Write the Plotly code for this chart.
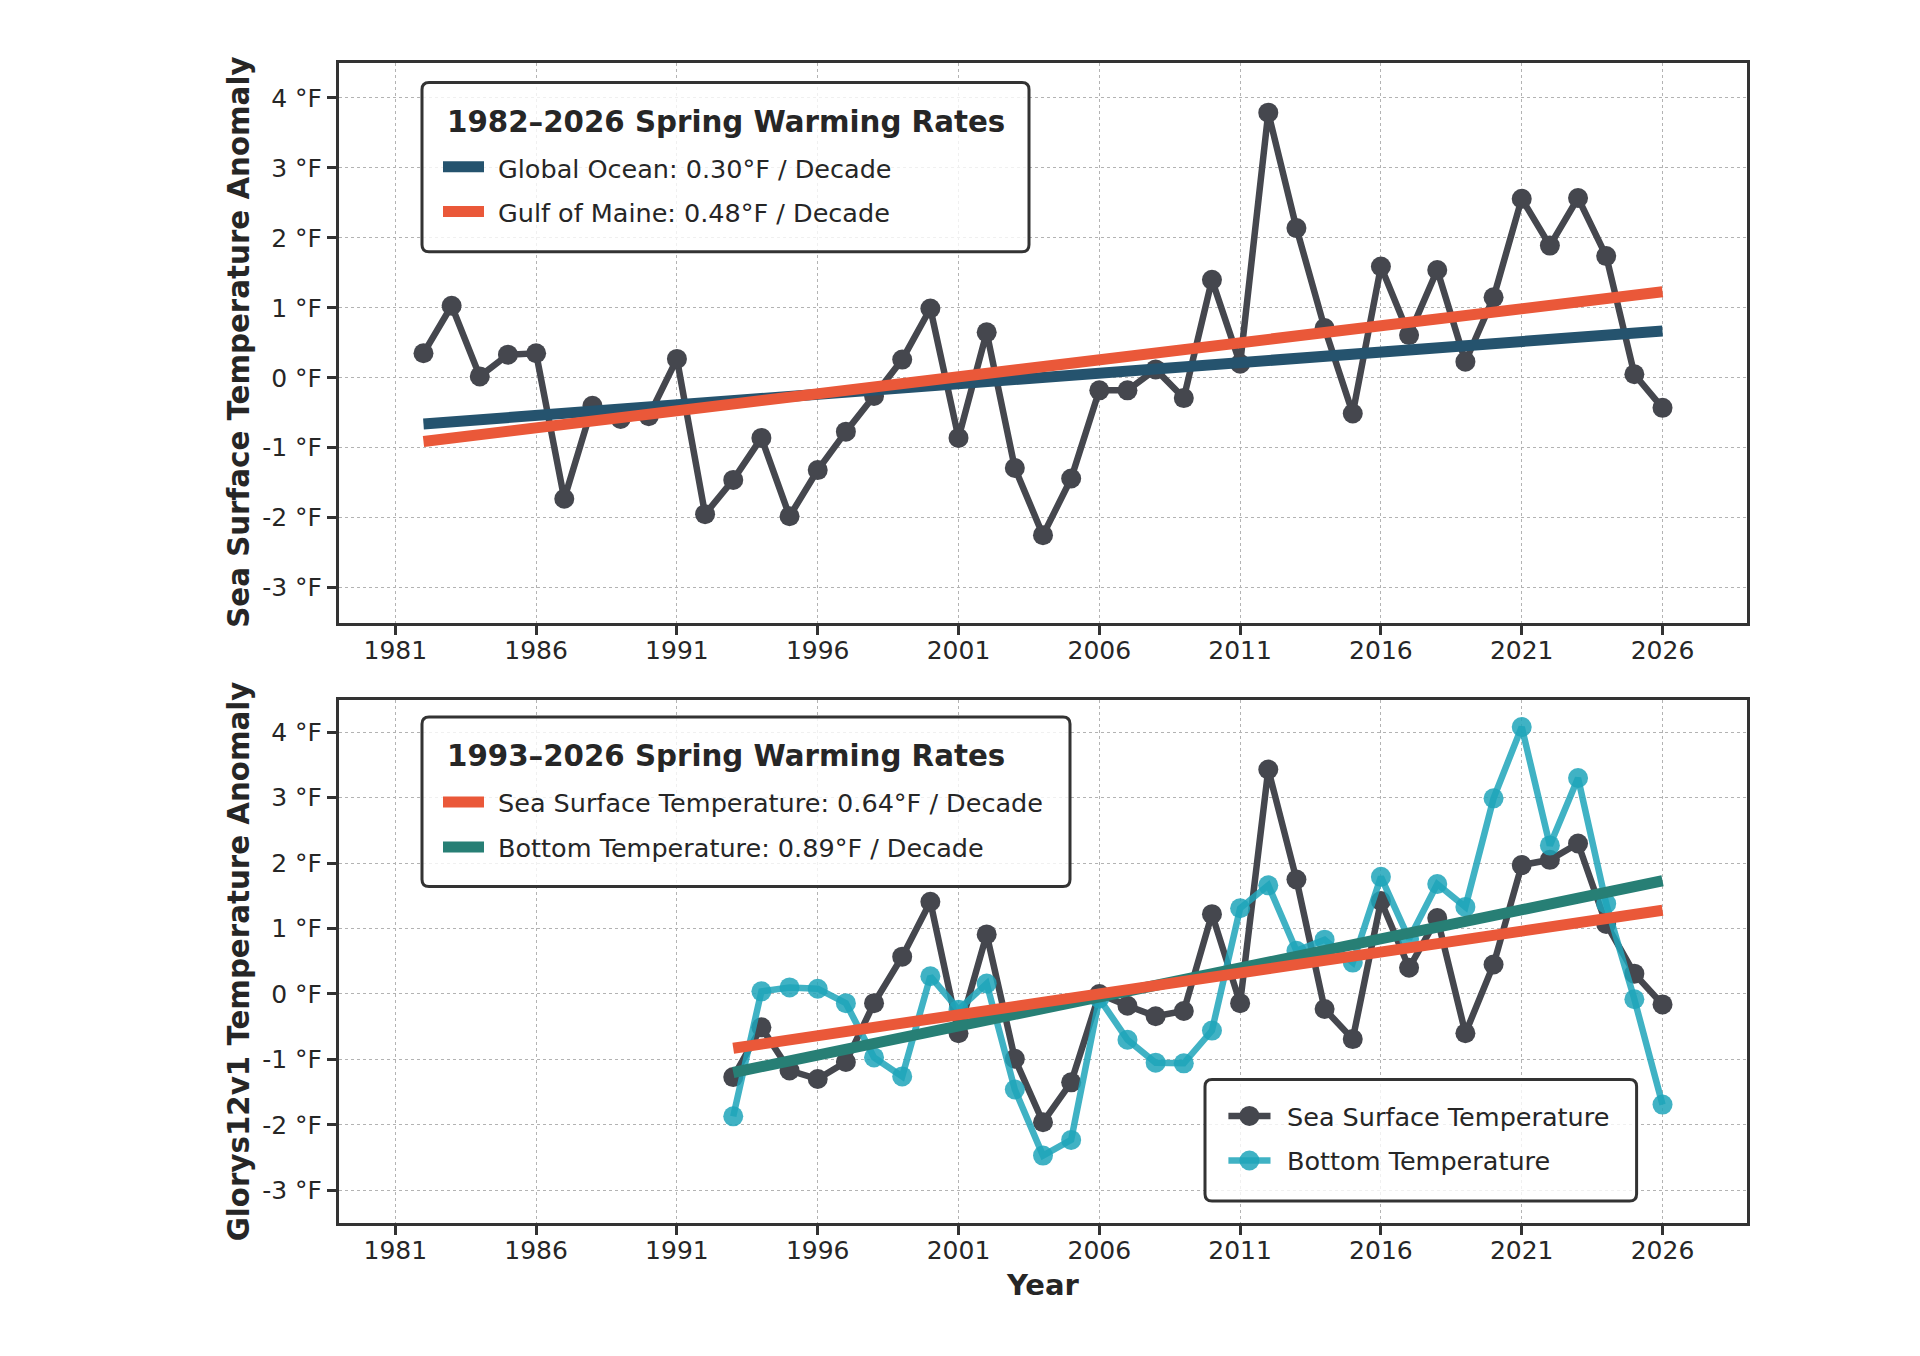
import plotly.graph_objects as go

# ---------------- data ----------------
years_top = list(range(1982, 2027))
gom_sst = [0.35, 1.03, 0.02, 0.33, 0.35, -1.73, -0.40, -0.59, -0.55, 0.27,
           -1.95, -1.46, -0.86, -1.98, -1.32, -0.77, -0.26, 0.26, 0.99, -0.86,
           0.65, -1.29, -2.25, -1.44, -0.18, -0.18, 0.12, -0.29, 1.40, 0.20,
           3.79, 2.14, 0.71, -0.51, 1.59, 0.61, 1.54, 0.23, 1.15, 2.56,
           1.89, 2.57, 1.74, 0.05, -0.43]
trend_years_top = [1982, 2026]
global_trend = [-0.66, 0.67]
gom_trend = [-0.91, 1.23]

years_bot = list(range(1993, 2027))
glorys_sst = [-1.27, -0.51, -1.17, -1.30, -1.04, -0.14, 0.57, 1.41, -0.60, 0.91,
              -0.99, -1.96, -1.35, 0.00, -0.18, -0.34, -0.26, 1.22, -0.14, 3.43,
              1.75, -0.23, -0.69, 1.42, 0.40, 1.16, -0.60, 0.45, 1.97, 2.05,
              2.30, 1.07, 0.31, -0.16]
glorys_bt = [-1.87, 0.04, 0.10, 0.08, -0.14, -0.97, -1.26, 0.27, -0.24, 0.16,
             -1.46, -2.47, -2.23, -0.07, -0.70, -1.05, -1.06, -0.56, 1.31, 1.66,
             0.66, 0.83, 0.48, 1.79, 0.84, 1.68, 1.33, 2.99, 4.08, 2.27,
             3.30, 1.38, -0.08, -1.69]
trend_years_bot = [1993, 2026]
sst_trend = [-0.83, 1.28]
bt_trend = [-1.20, 1.73]

x_tickvals = [1981, 1986, 1991, 1996, 2001, 2006, 2011, 2016, 2021, 2026]
x_ticktext = [str(v) for v in x_tickvals]
y_tickvals = [-3, -2, -1, 0, 1, 2, 3, 4]
y_ticktext = ["-3 °F", "-2 °F", "-1 °F", "0 °F", "1 °F", "2 °F", "3 °F", "4 °F"]

top_legend_title = "1982–2026 Spring Warming Rates"
top_legend_labels = ["Global Ocean: 0.30°F / Decade", "Gulf of Maine: 0.48°F / Decade"]
bot_legend_title = "1993–2026 Spring Warming Rates"
bot_legend_labels = ["Sea Surface Temperature: 0.64°F / Decade",
                     "Bottom Temperature: 0.89°F / Decade"]
series_labels = ["Sea Surface Temperature", "Bottom Temperature"]
top_ytitle = "Sea Surface Temperature Anomaly"
bot_ytitle = "Glorys12v1 Temperature Anomaly"
xtitle = "Year"

# ---------------- styles ----------------
FONT = "DejaVu Sans"
TEXT = "#262626"
SPINE = "#333333"
GRID = "#b3b3b3"
DARK = "#45474e"
CYAN = "rgba(30,164,186,0.85)"
BLUE = "#25536e"
ORANGE = "#ea5839"
TEAL = "#277f75"

W, H = 1920, 1356
PL, PR, PT, PB = 339, 1747, 63, 1223


def px(x):
    return (x - PL) / (PR - PL)


def py(y):
    return (PB - y) / (PB - PT)


fig = go.Figure()

MS = 20
LW = 6.5

# top panel
fig.add_trace(go.Scatter(x=years_top, y=gom_sst, mode="lines+markers",
                         line=dict(color=DARK, width=LW),
                         marker=dict(color=DARK, size=MS, line=dict(width=0)),
                         xaxis="x", yaxis="y", showlegend=False))
fig.add_trace(go.Scatter(x=trend_years_top, y=global_trend, mode="lines",
                         line=dict(color=BLUE, width=11),
                         xaxis="x", yaxis="y", showlegend=False))
fig.add_trace(go.Scatter(x=trend_years_top, y=gom_trend, mode="lines",
                         line=dict(color=ORANGE, width=11),
                         xaxis="x", yaxis="y", showlegend=False))

# bottom panel
fig.add_trace(go.Scatter(x=years_bot, y=glorys_sst, mode="lines+markers",
                         line=dict(color=DARK, width=LW),
                         marker=dict(color=DARK, size=MS, line=dict(width=0)),
                         xaxis="x2", yaxis="y2", showlegend=False))
fig.add_trace(go.Scatter(x=years_bot, y=glorys_bt, mode="lines+markers",
                         line=dict(color=CYAN, width=LW),
                         marker=dict(color=CYAN, size=MS, line=dict(width=0)),
                         xaxis="x2", yaxis="y2", showlegend=False))
fig.add_trace(go.Scatter(x=trend_years_bot, y=bt_trend, mode="lines",
                         line=dict(color=TEAL, width=11),
                         xaxis="x2", yaxis="y2", showlegend=False))
fig.add_trace(go.Scatter(x=trend_years_bot, y=sst_trend, mode="lines",
                         line=dict(color=ORANGE, width=11),
                         xaxis="x2", yaxis="y2", showlegend=False))

tickfont = dict(family=FONT, size=25, color=TEXT)
xcommon = dict(range=[1979, 2029], tickvals=x_tickvals, ticktext=x_ticktext,
               ticks="outside", ticklen=9, tickwidth=3, tickcolor=SPINE,
               showline=True, linewidth=3, linecolor=SPINE, mirror=True,
               showgrid=True, gridcolor=GRID, griddash="dot", gridwidth=1.3,
               zeroline=False, tickfont=tickfont, domain=[0, 1],
               ticklabelstandoff=-6)
ycommon = dict(range=[-3.5, 4.5], tickvals=y_tickvals, ticktext=y_ticktext,
               ticks="outside", ticklen=9, tickwidth=3, tickcolor=SPINE,
               showline=True, linewidth=3, linecolor=SPINE, mirror=True,
               showgrid=True, gridcolor=GRID, griddash="dot", gridwidth=1.3,
               zeroline=False, tickfont=tickfont)

fig.update_layout(
    width=W, height=H,
    margin=dict(l=PL, r=W - PR, t=PT, b=H - PB),
    paper_bgcolor="white", plot_bgcolor="white",
    xaxis=dict(**xcommon, anchor="y"),
    yaxis=dict(**ycommon, domain=[py(622.6), 1], anchor="x"),
    xaxis2=dict(**xcommon, anchor="y2"),
    yaxis2=dict(**ycommon, domain=[0, py(699.5)], anchor="x2"),
    showlegend=False,
)

shapes = []
annotations = []


def rrect(x0, y0, x1, y1, r):
    pts = [
        f"M {px(x0 + r)},{py(y0)}",
        f"L {px(x1 - r)},{py(y0)}",
        f"Q {px(x1)},{py(y0)} {px(x1)},{py(y0 + r)}",
        f"L {px(x1)},{py(y1 - r)}",
        f"Q {px(x1)},{py(y1)} {px(x1 - r)},{py(y1)}",
        f"L {px(x0 + r)},{py(y1)}",
        f"Q {px(x0)},{py(y1)} {px(x0)},{py(y1 - r)}",
        f"L {px(x0)},{py(y0 + r)}",
        f"Q {px(x0)},{py(y0)} {px(x0 + r)},{py(y0)}",
        "Z",
    ]
    return dict(type="path", xref="paper", yref="paper", path=" ".join(pts),
                line=dict(color=SPINE, width=3), fillcolor="rgba(255,255,255,0.8)",
                layer="above")


def handle(x0, x1, y, color, width):
    return dict(type="line", xref="paper", yref="paper",
                x0=px(x0), x1=px(x1), y0=py(y), y1=py(y),
                line=dict(color=color, width=width), layer="above")


def text(x, y, s, size=25.5, bold=False, anchor="left", angle=0):
    return dict(xref="paper", yref="paper", x=px(x), y=py(y), text=s,
                showarrow=False, xanchor=anchor, yanchor="middle", textangle=angle,
                font=dict(family=FONT, size=size, color=TEXT,
                          weight="bold" if bold else "normal"))


# top legend
shapes.append(rrect(422, 82.5, 1029, 251.7, 7))
annotations.append(text(445, 121.5, top_legend_title, size=29.3, bold=True))
shapes.append(handle(443, 484, 166.7, BLUE, 11))
shapes.append(handle(443, 484, 211.5, ORANGE, 11))
annotations.append(text(496, 168.5, top_legend_labels[0]))
annotations.append(text(496, 213, top_legend_labels[1]))

# bottom warming-rate legend
shapes.append(rrect(422, 717, 1070, 886.5, 7))
annotations.append(text(445, 755.5, bot_legend_title, size=29.3, bold=True))
shapes.append(handle(443, 484, 801.9, ORANGE, 11))
shapes.append(handle(443, 484, 847, TEAL, 11))
annotations.append(text(496, 803, bot_legend_labels[0]))
annotations.append(text(496, 848, bot_legend_labels[1]))

# bottom series legend
shapes.append(rrect(1205, 1079.5, 1636.6, 1201, 7))
for yy, col in [(1115.9, DARK), (1160.5, CYAN)]:
    shapes.append(handle(1228.4, 1270.5, yy, col, LW))
    shapes.append(dict(type="circle", xref="paper", yref="paper",
                       x0=px(1249.4 - MS / 2), x1=px(1249.4 + MS / 2),
                       y0=py(yy + MS / 2), y1=py(yy - MS / 2),
                       fillcolor=col, line=dict(width=0), layer="above"))
annotations.append(text(1285, 1116.5, series_labels[0]))
annotations.append(text(1285, 1161, series_labels[1]))

# axis titles
annotations.append(text(239, (63 + 622.6) / 2, top_ytitle, size=29.3, bold=True,
                        anchor="center", angle=-90))
annotations.append(text(239, (699.5 + 1223) / 2, bot_ytitle, size=29.3, bold=True,
                        anchor="center", angle=-90))
annotations.append(text(1043, 1285, xtitle, size=29, bold=True, anchor="center"))

fig.update_layout(shapes=shapes, annotations=annotations)

fig.write_html("out.html")
